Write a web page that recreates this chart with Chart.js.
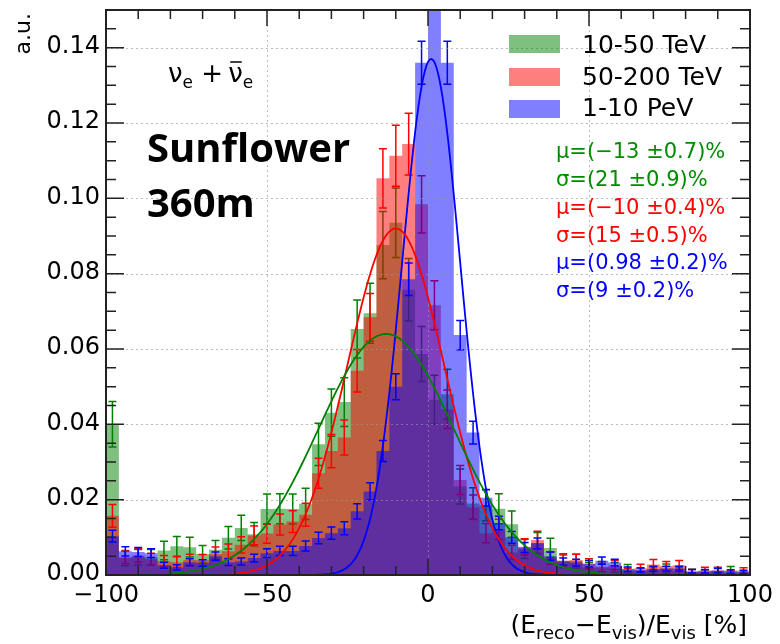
<!DOCTYPE html>
<html>
<head>
<meta charset="utf-8">
<script src="https://cdn.jsdelivr.net/npm/chart.js@4.4.1/dist/chart.umd.min.js"></script>
<style>
  html, body { margin: 0; padding: 0; background: #fff; }
  #wrap { width: 780px; height: 644px; }
</style>
</head>
<body>
<div id="wrap"><canvas id="chart" width="780" height="644"></canvas></div>
<script>
// histogram binning: 50 bins of 4% from -100 to 100
const binStart = -100;
const binWidth = 4;

// 10-50 TeV
const green = [
  0.0400, 0.0045, 0.0047, 0.0047, 0.0065, 0.0076, 0.0074, 0.0056, 0.0067, 0.0099,
  0.0125, 0.0108, 0.0175, 0.0176, 0.0175, 0.0189, 0.0347, 0.0431, 0.0459, 0.0653,
  0.0695, 0.0876, 0.0935, 0.0757, 0.0587, 0.0465, 0.0480, 0.0235, 0.0190, 0.0185,
  0.0176, 0.0135, 0.0069, 0.0085, 0.0072, 0.0038, 0.0037, 0.0020, 0.0022, 0.0020,
  0.0016, 0.0010, 0.0013, 0.0017, 0.0010, 0.0007, 0.0006, 0.0010, 0.0012, 0.0003
];
// 50-200 TeV
const red = [
  0.0157, 0.0047, 0.0052, 0.0042, 0.0037, 0.0034, 0.0040, 0.0039, 0.0056, 0.0063,
  0.0080, 0.0105, 0.0110, 0.0134, 0.0142, 0.0160, 0.0270, 0.0329, 0.0365, 0.0542,
  0.0684, 0.1053, 0.1113, 0.1144, 0.0984, 0.0716, 0.0440, 0.0252, 0.0180, 0.0111,
  0.0121, 0.0060, 0.0075, 0.0093, 0.0045, 0.0038, 0.0040, 0.0030, 0.0020, 0.0026,
  0.0010, 0.0018, 0.0028, 0.0024, 0.0026, 0.0008, 0.0012, 0.0012, 0.0005, 0.0011
];
// 1-10 PeV
const blue = [
  0.0103, 0.0063, 0.0061, 0.0058, 0.0026, 0.0020, 0.0034, 0.0032, 0.0050, 0.0034,
  0.0036, 0.0045, 0.0058, 0.0064, 0.0064, 0.0077, 0.0098, 0.0111, 0.0124, 0.0169,
  0.0222, 0.0329, 0.0500, 0.0785, 0.1360, 0.1580, 0.1360, 0.0637, 0.0378, 0.0205,
  0.0138, 0.0100, 0.0073, 0.0084, 0.0050, 0.0036, 0.0033, 0.0030, 0.0038, 0.0033,
  0.0015, 0.0013, 0.0016, 0.0017, 0.0017, 0.0010, 0.0010, 0.0012, 0.0009, 0.0008
];

// effective entries per sample (for the statistical error bars)
const entries = [1100, 1700, 4200];

// gaussian fits: [amplitude, mean, sigma]
const fitGreen = [0.064, -13, 21];
const fitRed = [0.092, -10, 15];
const fitBlue = [0.137, 0.98, 9];

const labels = ["10-50 TeV", "50-200 TeV", "1-10 PeV"];
const fitText = [
  "μ=(−13 ±0.7)%", "σ=(21 ±0.9)%",
  "μ=(−10 ±0.4)%", "σ=(15 ±0.5)%",
  "μ=(0.98 ±0.2)%", "σ=(9 ±0.2)%"
];
const xTicks = [-100, -50, 0, 50, 100];
const yTicks = [0, 0.02, 0.04, 0.06, 0.08, 0.10, 0.12, 0.14];

const fills = ["rgba(0,128,0,0.5)", "rgba(255,0,0,0.5)", "rgba(0,0,255,0.5)"];
const lines = ["#008000", "#ff0000", "#0000ff"];
const FONT = '"DejaVu Sans", sans-serif';

const binLow = i => binStart + binWidth * i;

function histPoints(vals) {
  const pts = [];
  vals.forEach((v, i) => {
    pts.push({ x: binLow(i), y: v });
    pts.push({ x: binLow(i + 1), y: v });
  });
  return pts;
}

function gaussPoints(p) {
  const pts = [];
  for (let x = -100; x <= 100; x += 0.5) {
    pts.push({ x: x, y: p[0] * Math.exp(-((x - p[1]) ** 2) / (2 * p[2] * p[2])) });
  }
  return pts;
}

function histSet(vals, k) {
  return {
    data: histPoints(vals),
    values: vals,
    nEntries: entries[k],
    errColor: lines[k],
    fill: "origin",
    backgroundColor: fills[k],
    borderColor: "rgba(0,0,0,0)",
    borderWidth: 1,
    pointRadius: 0,
    tension: 0,
    order: 3 - k
  };
}

function fitSet(p, k) {
  return {
    data: gaussPoints(p),
    fill: false,
    borderColor: lines[k],
    borderWidth: 1.8,
    pointRadius: 0,
    tension: 0,
    order: 0
  };
}

function drawGrid(chart) {
  const { ctx, chartArea: a, scales: { x, y } } = chart;
  ctx.save();
  ctx.strokeStyle = "rgba(150,150,150,0.65)";
  ctx.lineWidth = 1;
  ctx.setLineDash([2, 3]);
  xTicks.slice(1, -1).forEach(v => {
    const px = Math.round(x.getPixelForValue(v)) + 0.5;
    ctx.beginPath(); ctx.moveTo(px, a.top); ctx.lineTo(px, a.bottom); ctx.stroke();
  });
  yTicks.slice(1).forEach(v => {
    const py = Math.round(y.getPixelForValue(v)) + 0.5;
    ctx.beginPath(); ctx.moveTo(a.left, py); ctx.lineTo(a.right, py); ctx.stroke();
  });
  ctx.restore();
}

function richText(ctx, parts, x, base, align) {
  let total = 0;
  parts.forEach(p => { ctx.font = p[1] + "px " + FONT; p.w = ctx.measureText(p[0]).width; total += p.w; });
  let cx = align === "right" ? x - total : x;
  const pos = [];
  parts.forEach(p => {
    ctx.font = p[1] + "px " + FONT;
    ctx.fillText(p[0], cx, base + p[2]);
    pos.push(cx);
    cx += p.w;
  });
  return pos;
}

const rootStyle = {
  id: "rootStyle",
  afterDatasetDraw(chart, args) {
    const ds = chart.data.datasets[args.index];
    if (!ds.values) return;
    const { ctx, chartArea: a, scales: { x, y } } = chart;
    ctx.save();
    ctx.beginPath();
    ctx.rect(a.left, a.top, a.right - a.left, a.bottom - a.top);
    ctx.clip();
    ctx.strokeStyle = ds.errColor;
    ctx.lineWidth = 1.5;
    ds.values.forEach((v, i) => {
      const err = Math.sqrt(v / ds.nEntries);
      const cx = x.getPixelForValue(binLow(i) + binWidth / 2);
      const y1 = y.getPixelForValue(v + err);
      const y2 = y.getPixelForValue(Math.max(v - err, 0));
      ctx.beginPath();
      ctx.moveTo(cx, y1); ctx.lineTo(cx, y2);
      ctx.moveTo(cx - 4, y1); ctx.lineTo(cx + 4, y1);
      ctx.moveTo(cx - 4, y2); ctx.lineTo(cx + 4, y2);
      ctx.stroke();
    });
    ctx.restore();
    if (ds.errColor === lines[2]) drawGrid(chart);
  },
  afterDraw(chart) {
    const { ctx, chartArea: a, scales: { x, y } } = chart;
    ctx.save();

    // frame
    ctx.strokeStyle = "#222";
    ctx.lineWidth = 2;
    ctx.strokeRect(a.left, a.top, a.right - a.left, a.bottom - a.top);

    // inner tick marks
    ctx.lineWidth = 1.5;
    ctx.beginPath();
    for (let v = -100; v <= 100; v += 10) {
      const px = x.getPixelForValue(v);
      const len = v % 50 === 0 ? 16 : 9;
      ctx.moveTo(px, a.bottom); ctx.lineTo(px, a.bottom - len);
      ctx.moveTo(px, a.top); ctx.lineTo(px, a.top + len);
    }
    for (let n = 0; n <= 30; n++) {
      const py = y.getPixelForValue(n * 0.005);
      const len = n % 4 === 0 ? 18 : 10;
      ctx.moveTo(a.left, py); ctx.lineTo(a.left + len, py);
      ctx.moveTo(a.right, py); ctx.lineTo(a.right - len, py);
    }
    ctx.stroke();

    // tick labels
    ctx.fillStyle = "#000";
    ctx.font = "24px " + FONT;
    ctx.textAlign = "center";
    ctx.textBaseline = "alphabetic";
    xTicks.forEach(v => {
      ctx.fillText(String(v).replace("-", "\u2212"), x.getPixelForValue(v), 602);
    });
    ctx.textAlign = "right";
    ctx.textBaseline = "middle";
    yTicks.forEach(v => {
      ctx.fillText(v.toFixed(2), 100, y.getPixelForValue(v) - 1);
    });

    // axis titles
    ctx.textAlign = "left";
    ctx.textBaseline = "alphabetic";
    richText(ctx, [["(E", 25, 0], ["reco", 18, 6], ["\u2212E", 25, 0], ["vis", 18, 6],
                   [")/E", 25, 0], ["vis", 18, 6], [" [%]", 25, 0]], 747, 633, "right");
    ctx.save();
    ctx.translate(30, 13);
    ctx.rotate(-Math.PI / 2);
    ctx.textAlign = "right";
    ctx.font = "22px " + FONT;
    ctx.fillText("a.u.", 0, 0);
    ctx.restore();

    // legend
    const boxY = [35, 68, 100];
    const textY = [53, 85, 116];
    labels.forEach((lab, k) => {
      ctx.fillStyle = fills[k];
      ctx.fillRect(509, boxY[k], 51, 18);
      ctx.fillStyle = "#000";
      ctx.font = "25px " + FONT;
      ctx.fillText(lab, 582, textY[k]);
    });

    // fit results
    const fitCol = ["#008c00", "#008c00", "#ff0000", "#ff0000", "#0000ff", "#0000ff"];
    const fitY = [158, 186, 213.5, 241.5, 269, 297];
    ctx.font = "21px " + FONT;
    fitText.forEach((t, k) => {
      ctx.fillStyle = fitCol[k];
      ctx.fillText(t, 556, fitY[k]);
    });

    // neutrino flavour
    ctx.fillStyle = "#000";
    const pos = richText(ctx, [["ν", 26, 0], ["e", 17, 6], [" +", 26, 0], ["\u2009", 26, 0], ["ν", 26, 0], ["e", 17, 6]], 168, 82, "left");
    ctx.font = "26px " + FONT;
    const nw = ctx.measureText("ν").width;
    ctx.lineWidth = 1.5;
    ctx.strokeStyle = "#000";
    ctx.beginPath();
    ctx.moveTo(pos[4] + 2, 62); ctx.lineTo(pos[4] + nw - 1, 62);
    ctx.stroke();

    // detector label
    ctx.font = 'bold 40px "Open Sans", sans-serif';
    ctx.fillText("Sunflower", 147, 162);
    ctx.fillText("360m", 147, 217);

    ctx.restore();
  }
};

new Chart(document.getElementById("chart"), {
  type: "line",
  data: {
    datasets: [
      fitSet(fitGreen, 0),
      fitSet(fitRed, 1),
      fitSet(fitBlue, 2),
      histSet(blue, 2),
      histSet(red, 1),
      histSet(green, 0)
    ]
  },
  options: {
    responsive: false,
    devicePixelRatio: 1,
    animation: false,
    events: [],
    layout: { padding: { left: 106, right: 30, top: 10, bottom: 69 } },
    plugins: { legend: { display: false }, tooltip: { enabled: false } },
    scales: {
      x: { type: "linear", display: false, min: -100, max: 100 },
      y: { type: "linear", display: false, min: 0, max: 0.15 }
    }
  },
  plugins: [rootStyle]
});
</script>
</body>
</html>
